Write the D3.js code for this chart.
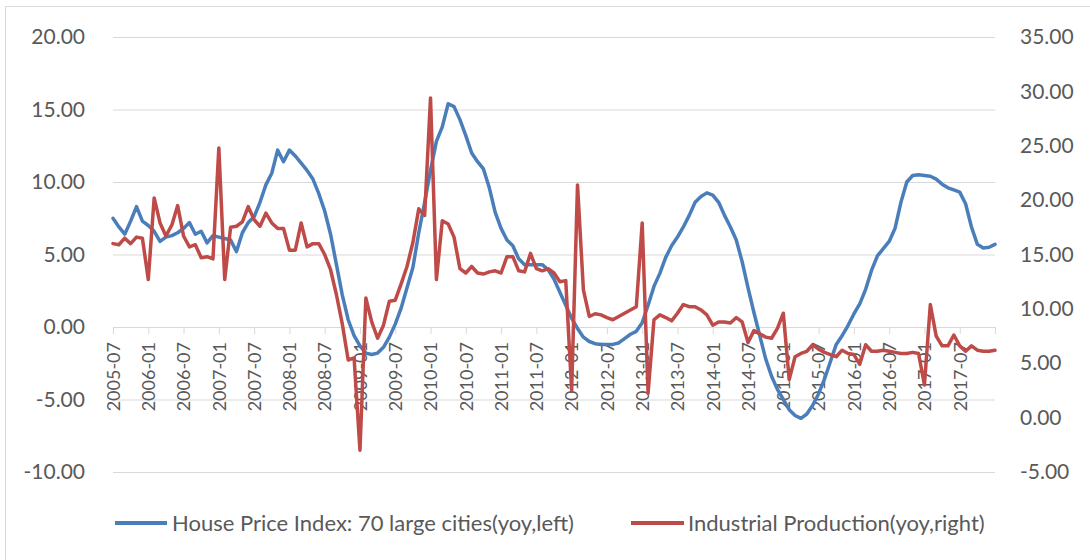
<!DOCTYPE html>
<html>
<head>
<meta charset="utf-8">
<script src="https://cdn.jsdelivr.net/npm/d3@7"></script>
<style>
  body { margin: 0; background: #fff; }
  text { font-family: Lato, "Open Sans", sans-serif; fill: #595959; }
</style>
</head>
<body>
<script>
// monthly categories 2005-07 .. 2018-01
var months = d3.utcMonth.range(new Date(Date.UTC(2005, 6, 1)), new Date(Date.UTC(2018, 1, 1)))
    .map(d3.utcFormat("%Y-%m"));

var tickLabels = ["2005-07","2006-01","2006-07","2007-01","2007-07","2008-01","2008-07",
    "2009-01","2009-07","2010-01","2010-07","2011-01","2011-07","2012-01","2012-07",
    "2013-01","2013-07","2014-01","2014-07","2015-01","2015-07","2016-01","2016-07",
    "2017-01","2017-07"];

var leftTicks = [-10, -5, 0, 5, 10, 15, 20];
var rightTicks = [-5, 0, 5, 10, 15, 20, 25, 30, 35];

// House Price Index: 70 large cities (yoy, left axis)
var hpi = [7.5, 6.9, 6.4, 7.3, 8.3, 7.3, 7.0, 6.6, 5.9, 6.2, 6.3, 6.5,
    6.8, 7.2, 6.4, 6.6, 5.8, 6.3, 6.2, 6.1, 6.0, 5.2, 6.5, 7.2,
    7.6, 8.6, 9.8, 10.6, 12.2, 11.4, 12.2, 11.8, 11.3, 10.8, 10.2, 9.2,
    8.0, 6.4, 4.3, 2.2, 0.5, -0.6, -1.3, -1.8, -1.9, -1.8, -1.4, -0.7,
    0.2, 1.3, 2.7, 4.1, 6.5, 8.6, 10.8, 12.8, 13.8, 15.4, 15.2, 14.3,
    13.2, 12.0, 11.4, 10.9, 9.6, 7.9, 6.8, 6.0, 5.6, 4.7, 4.3, 4.3,
    4.3, 4.3, 3.95, 3.3, 2.4, 1.5, 0.6, -0.1, -0.7, -1.0, -1.15, -1.2,
    -1.2, -1.2, -1.1, -0.8, -0.5, -0.3, 0.3, 1.5, 2.8, 3.7, 4.8, 5.6,
    6.2, 6.9, 7.7, 8.6, 9.0, 9.25, 9.1, 8.6, 7.7, 6.9, 6.0, 4.5,
    2.7, 1.0, -0.6, -2.2, -3.4, -4.3, -5.0, -5.7, -6.1, -6.3, -6.0, -5.4,
    -4.6, -3.6, -2.4, -1.2, -0.6, 0.1, 0.9, 1.6, 2.6, 3.9, 4.9, 5.4,
    5.9, 6.8, 8.6, 10.0, 10.45, 10.5, 10.45, 10.4, 10.2, 9.85, 9.6, 9.45,
    9.3, 8.5, 6.9, 5.7, 5.45, 5.5, 5.7];

// Industrial Production (yoy, right axis)
var ip = [16.0, 15.9, 16.5, 16.0, 16.6, 16.5, 12.7, 20.2, 17.9, 16.7, 17.7, 19.5,
    16.7, 15.7, 15.9, 14.7, 14.8, 14.6, 24.8, 12.7, 17.5, 17.6, 18.0, 19.4,
    18.2, 17.6, 18.8, 17.9, 17.4, 17.4, 15.4, 15.4, 17.9, 15.7, 16.0, 16.0,
    15.0, 13.6, 11.3, 8.6, 5.3, 5.5, -3.0, 11.0, 8.8, 7.3, 8.5, 10.7,
    10.8, 12.3, 13.9, 16.1, 19.2, 18.6, 29.4, 12.7, 18.1, 17.8, 16.6, 13.7,
    13.3, 13.9, 13.3, 13.2, 13.4, 13.5, 13.3, 14.8, 14.8, 13.5, 13.4, 15.1,
    13.7, 13.5, 13.7, 13.3, 12.5, 12.6, 2.5, 21.4, 11.75, 9.3, 9.55, 9.45,
    9.2, 9.0, 9.3, 9.6, 9.9, 10.2, 17.9, 2.25, 9.0, 9.45, 9.2, 8.9,
    9.6, 10.4, 10.2, 10.2, 9.9, 9.45, 8.5, 8.8, 8.8, 8.7, 9.2, 8.8,
    6.9, 8.0, 7.7, 7.4, 7.3, 8.2, 9.6, 3.5, 5.6, 5.9, 6.1, 6.7,
    6.3, 6.0, 5.8, 5.6, 6.2, 5.9, 5.8, 4.9, 6.7, 6.1, 6.1, 6.2,
    6.1, 6.0, 5.9, 5.9, 6.0, 5.9, 3.0, 10.4, 7.5, 6.6, 6.6, 7.6,
    6.6, 6.1, 6.6, 6.2, 6.1, 6.1, 6.2];

var width = 1090, height = 560;
var plotLeft = 113, plotRight = 995, plotTop = 37, plotBottom = 472;

// Excel-style number labels with a plain hyphen for negatives
var fmt = function(d) { return d.toFixed(2); };

var svg = d3.select("body")
    .append("svg")
    .attr("width", width)
    .attr("height", height)
    .style("display", "block");

// chart border
svg.append("rect")
    .attr("x", 5.5)
    .attr("y", 6.5)
    .attr("width", 1200)
    .attr("height", 800)
    .attr("fill", "none")
    .attr("stroke", "#d9d9d9");

var x = d3.scalePoint().domain(months).range([plotLeft, plotRight]);
var yL = d3.scaleLinear().domain([-10, 20]).range([plotBottom, plotTop]);
var yR = d3.scaleLinear().domain([-5, 35]).range([plotBottom, plotTop]);

// gridlines
svg.append("g")
    .attr("transform", "translate(" + plotLeft + ",0)")
    .call(d3.axisLeft(yL).tickValues(leftTicks).tickSize(-(plotRight - plotLeft)).tickFormat(""))
    .call(function(g) {
        g.select(".domain").remove();
        g.selectAll("line").attr("stroke", "#d9d9d9");
    });

// left axis labels
svg.append("g")
    .attr("transform", "translate(" + plotLeft + ",0)")
    .call(d3.axisLeft(yL).tickValues(leftTicks).tickSize(0).tickPadding(28).tickFormat(fmt))
    .call(function(g) {
        g.select(".domain").remove();
        g.selectAll("text").attr("font-size", "21px").attr("fill", "#595959")
            .style("font-family", "Lato");
    });

// right axis labels
svg.append("g")
    .attr("transform", "translate(" + plotRight + ",0)")
    .call(d3.axisRight(yR).tickValues(rightTicks).tickSize(0).tickPadding(25).tickFormat(fmt))
    .call(function(g) {
        g.select(".domain").remove();
        g.selectAll("text").attr("font-size", "21px").attr("fill", "#595959")
            .style("font-family", "Lato");
    });

// x axis on the zero line
var xTicks = months.filter(function(d, i) { return i % 6 === 0; });
svg.append("g")
    .attr("transform", "translate(0," + yL(0) + ")")
    .call(d3.axisBottom(x).tickValues(xTicks).tickSize(7).tickSizeOuter(0)
        .tickFormat(function(d) { return tickLabels.indexOf(d) >= 0 ? d : ""; }))
    .call(function(g) {
        g.select(".domain").attr("stroke", "#d9d9d9");
        g.selectAll("line").attr("stroke", "#d9d9d9");
        g.selectAll("text")
            .attr("font-size", "18px")
            .attr("fill", "#595959")
            .style("font-family", "Lato")
            .attr("text-anchor", "end")
            .attr("transform", "rotate(-90)")
            .attr("x", -15)
            .attr("y", 0)
            .attr("dy", "0.35em");
    });

var lineL = d3.line()
    .x(function(d, i) { return x(months[i]); })
    .y(function(d) { return yL(d); });

var lineR = d3.line()
    .x(function(d, i) { return x(months[i]); })
    .y(function(d) { return yR(d); });

svg.append("path")
    .datum(hpi)
    .attr("d", lineL)
    .attr("fill", "none")
    .attr("stroke", "#4a7ebb")
    .attr("stroke-width", 3.5)
    .attr("stroke-linejoin", "round")
    .attr("stroke-linecap", "round");

svg.append("path")
    .datum(ip)
    .attr("d", lineR)
    .attr("fill", "none")
    .attr("stroke", "#be4b48")
    .attr("stroke-width", 3.5)
    .attr("stroke-linejoin", "round")
    .attr("stroke-linecap", "round");

// legend
var legendY = 523;
svg.append("line")
    .attr("x1", 115).attr("x2", 167)
    .attr("y1", legendY).attr("y2", legendY)
    .attr("stroke", "#4a7ebb")
    .attr("stroke-width", 4);

svg.append("text")
    .attr("x", 172)
    .attr("y", legendY)
    .attr("dy", "0.35em")
    .attr("font-size", "22px")
    .text("House Price Index: 70 large cities(yoy,left)");

svg.append("line")
    .attr("x1", 631).attr("x2", 684)
    .attr("y1", legendY).attr("y2", legendY)
    .attr("stroke", "#be4b48")
    .attr("stroke-width", 4);

svg.append("text")
    .attr("x", 688)
    .attr("y", legendY)
    .attr("dy", "0.35em")
    .attr("font-size", "22px")
    .text("Industrial Production(yoy,right)");
</script>
</body>
</html>
